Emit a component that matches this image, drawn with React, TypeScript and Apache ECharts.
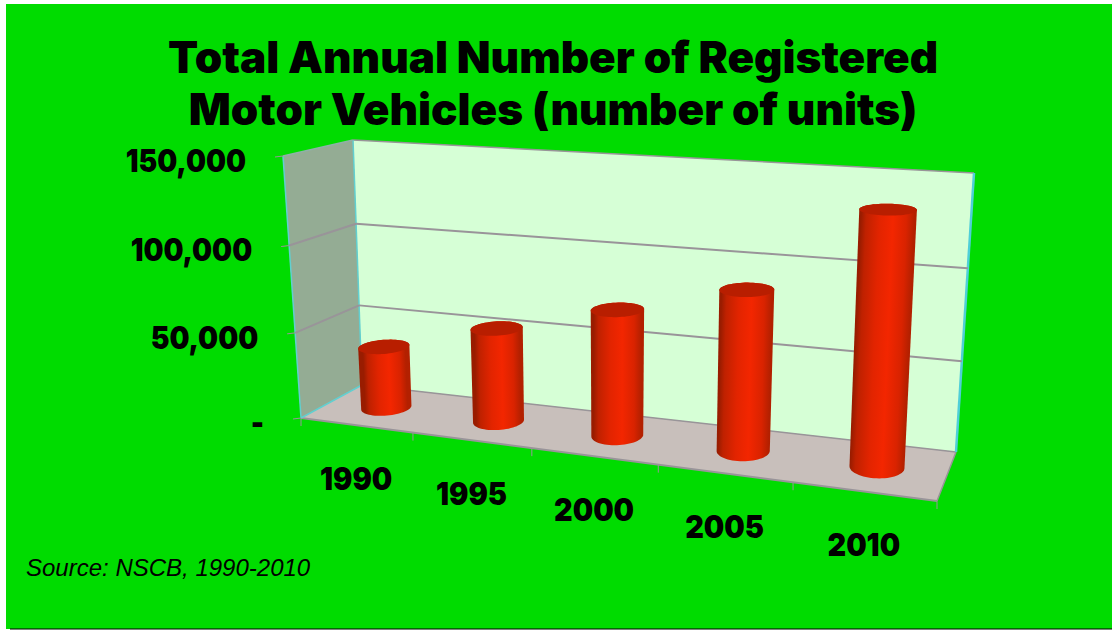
import React, { useEffect, useRef } from "react";
import * as echarts from "echarts";

const categories = ["1990", "1995", "2000", "2005", "2010"];
const vehicles = [36500, 54000, 71000, 88000, 135000];
const yTicks = [0, 50000, 100000, 150000];
const yTickLabels = ["-", "50,000", "100,000", "150,000"];
const titleText = "Total Annual Number of Registered\nMotor Vehicles (number of units)";
const sourceText = "Source: NSCB, 1990-2010";

type P = [number, number];
// Screen corners of the 3D box: floor and ceiling, order front-left, front-right, back-right, back-left
const FLOOR: P[] = [[301, 418], [937, 501], [956, 452], [362, 385]];
const CEIL: P[] = [[283, 156], [950, 196], [974, 173], [353, 140]];
const K = 0.963;
const M_FLOOR = 1.096;
const M_CEIL = 1.055;
const RU = 0.039;
const RW = 0.23;

function quad(q: P[]) {
  const [p0, p1, p2, p3] = q;
  const dx1 = p1[0] - p2[0], dx2 = p3[0] - p2[0], sx = p0[0] - p1[0] + p2[0] - p3[0];
  const dy1 = p1[1] - p2[1], dy2 = p3[1] - p2[1], sy = p0[1] - p1[1] + p2[1] - p3[1];
  const den = dx1 * dy2 - dx2 * dy1;
  const g = (sx * dy2 - dx2 * sy) / den;
  const h = (dx1 * sy - sx * dy1) / den;
  const a = p1[0] - p0[0] + g * p1[0], b = p3[0] - p0[0] + h * p3[0], c = p0[0];
  const d = p1[1] - p0[1] + g * p1[1], e = p3[1] - p0[1] + h * p3[1], f = p0[1];
  return (u: number, w: number): P => {
    const z = g * u + h * w + 1;
    return [(a * u + b * w + c) / z, (d * u + e * w + f) / z];
  };
}
const floorMap = quad(FLOOR);
const ceilMap = quad(CEIL);
const warp = (u: number, m: number) => (m * u) / (1 + (m - 1) * u);
function project(u: number, v: number, w: number): P {
  const t = (K * v) / (1 + (K - 1) * v);
  const a = floorMap(warp(u, M_FLOOR), w), b = ceilMap(warp(u, M_CEIL), w);
  return [a[0] + (b[0] - a[0]) * t, a[1] + (b[1] - a[1]) * t];
}

function hull(points: P[]): P[] {
  const pts = points.slice().sort((a, b) => a[0] - b[0] || a[1] - b[1]);
  const cross = (o: P, a: P, b: P) => (a[0] - o[0]) * (b[1] - o[1]) - (a[1] - o[1]) * (b[0] - o[0]);
  const lower: P[] = [];
  for (const p of pts) {
    while (lower.length >= 2 && cross(lower[lower.length - 2], lower[lower.length - 1], p) <= 0) lower.pop();
    lower.push(p);
  }
  const upper: P[] = [];
  for (let i = pts.length - 1; i >= 0; i--) {
    const p = pts[i];
    while (upper.length >= 2 && cross(upper[upper.length - 2], upper[upper.length - 1], p) <= 0) upper.pop();
    upper.push(p);
  }
  lower.pop();
  upper.pop();
  return lower.concat(upper);
}

function circle(u: number, v: number): P[] {
  const out: P[] = [];
  for (let i = 0; i < 64; i++) {
    const a = (i / 64) * Math.PI * 2;
    out.push(project(u + RU * Math.cos(a), v, 0.5 + RW * Math.sin(a)));
  }
  return out;
}

const line = (a: P, b: P, stroke: string, lineWidth = 1.5) => ({
  type: "line",
  shape: { x1: a[0], y1: a[1], x2: b[0], y2: b[1] },
  style: { stroke, lineWidth },
  silent: true,
});
const poly = (points: P[], fill: string) => ({ type: "polygon", shape: { points }, style: { fill }, silent: true });

const GREY = "#999499";
const CYAN = "#62cfd0";
const FONT = "Inter";

function renderPlanes() {
  const c = (u: number, v: number, w: number) => project(u, v, w);
  const children: any[] = [
    poly([c(0, 0, 1), c(1, 0, 1), c(1, 1, 1), c(0, 1, 1)], "#d6ffd6"),
    poly([c(0, 0, 0), c(0, 0, 1), c(0, 1, 1), c(0, 1, 0)], "#94ac94"),
    poly([c(0, 0, 0), c(1, 0, 0), c(1, 0, 1), c(0, 0, 1)], "#c8bfbb"),
    line(c(0, 1, 1), c(1, 1, 1), GREY),
    line(c(0, 0, 1), c(1, 0, 1), GREY),
    line(c(0, 0, 0), c(1, 0, 0), GREY, 2),
    line(c(1, 0, 0), c(1, 0, 1), GREY),
    line(c(1, 0, 1), c(1, 1, 1), "#4fcfd8", 2.5),
    line(c(0, 0, 1), c(0, 1, 1), CYAN),
    line(c(0, 0, 0), c(0, 1, 0), CYAN),
    line(c(0, 1, 0), c(0, 1, 1), "#8fb0a8"),
    line(c(0, 0, 0), c(0, 0, 1), CYAN),
  ];
  return { type: "group", children };
}

function renderTicks(params: any, api: any) {
  const cs = params.coordSys;
  const py = api.coord([0, api.value(1)])[1];
  const v = 1 - (py - cs.y) / cs.height;
  const a = project(0, v, 1), b = project(1, v, 1), f = project(0, v, 0);
  const children: any[] = [line([f[0] - 8, f[1] + 1], f, GREY, 1), {
    type: "text",
    x: f[0] - 37,
    y: f[1] + 4,
    scaleX: 0.88,
    style: {
      text: yTickLabels[params.dataIndex],
      align: "right",
      verticalAlign: "middle",
      font: `900 32px ${FONT}`,
      fill: "#000",
    },
  }];
  if (v > 0 && v < 1) {
    children.push(line(f, a, GREY, 2), line(a, b, GREY, 2));
  }
  return { type: "group", children };
}

function renderCats(params: any, api: any) {
  const cs = params.coordSys;
  const u = (api.coord([params.dataIndex, 0])[0] - cs.x) / cs.width;
  const p = project(u, 0, 0);
  const step = 1 / categories.length;
  const t0 = project(u - step / 2, 0, 0);
  const children: any[] = [
    line(t0, [t0[0], t0[1] + 8], GREY, 1),
    {
      type: "text",
      x: p[0],
      y: p[1] + 53,
      scaleX: 0.9,
      style: {
        text: categories[params.dataIndex],
        align: "center",
        verticalAlign: "middle",
        font: `900 32px ${FONT}`,
        fill: "#000",
      },
    },
  ];
  if (params.dataIndex === categories.length - 1) {
    const t1 = project(1, 0, 0);
    children.push(line(t1, [t1[0], t1[1] + 8], GREY, 1));
  }
  return { type: "group", children };
}

function renderBar(params: any, api: any) {
  const cs = params.coordSys;
  const pt = api.coord([params.dataIndex, api.value(1)]);
  const u = (pt[0] - cs.x) / cs.width;
  const v = 1 - (pt[1] - cs.y) / cs.height;
  const base = circle(u, 0);
  const top = circle(u, v);
  const c0 = project(u, 0, 0.5), c1 = project(u, v, 0.5);
  const dx = c1[0] - c0[0], dy = c1[1] - c0[1];
  const len = Math.hypot(dx, dy) || 1;
  const nx = -dy / len, ny = dx / len;
  const R = (project(u + RU, 0, 0.5)[0] - project(u - RU, 0, 0.5)[0]) / 2;
  const fill = new echarts.graphic.LinearGradient(
    c0[0] - nx * R * (nx > 0 ? 1 : -1),
    c0[1] - ny * R * (nx > 0 ? 1 : -1),
    c0[0] + nx * R * (nx > 0 ? 1 : -1),
    c0[1] + ny * R * (nx > 0 ? 1 : -1),
    [
      { offset: 0, color: "#991c00" },
      { offset: 0.1, color: "#bf2100" },
      { offset: 0.35, color: "#e22400" },
      { offset: 0.6, color: "#f32600" },
      { offset: 0.85, color: "#d92300" },
      { offset: 1, color: "#b32000" },
    ],
    true,
  );
  return {
    type: "group",
    children: [
      { type: "polygon", shape: { points: hull(base.concat(top)) }, style: { fill }, silent: true },
      { type: "polygon", shape: { points: top }, style: { fill: "#b81e00" }, silent: true },
    ],
  };
}

export default function App() {
  const ref = useRef<HTMLDivElement>(null);
  useEffect(() => {
    document.body.style.margin = "0";
    document.body.style.overflow = "hidden";
    const chart = echarts.init(ref.current!, undefined, { renderer: "svg" });
    chart.setOption({
      animation: false,
      backgroundColor: "#ffffff",
      title: {
        text: titleText,
        left: 548,
        top: 26,
        textAlign: "center",
        textStyle: { fontFamily: FONT, fontWeight: 900, fontSize: 44, lineHeight: 52, color: "#000" },
      },
      graphic: [
        { type: "rect", z: -10, shape: { x: 6, y: 4, width: 1106, height: 625 }, style: { fill: "#00dc00" }, silent: true },
        { type: "rect", z: -9, shape: { x: 10, y: 628.5, width: 1102, height: 1 }, style: { fill: "#000" }, silent: true },
        {
          type: "text",
          x: 26,
          y: 567,
          style: {
            text: sourceText,
            font: "italic 24px 'Liberation Sans'",
            fill: "#000",
            verticalAlign: "middle",
          },
        },
      ],
      grid: { left: 100, right: 100, top: 100, bottom: 100 },
      xAxis: { type: "category", data: categories, show: false },
      yAxis: { type: "value", min: 0, max: 150000, interval: 50000, show: false },
      series: [
        { type: "custom", z: 1, silent: true, data: [[categories[0], 0]], renderItem: renderPlanes },
        { type: "custom", z: 2, silent: true, data: yTicks.map((t) => [categories[0], t]), renderItem: renderTicks },
        { type: "custom", z: 2, silent: true, data: categories.map((c) => [c, 0]), renderItem: renderCats },
        { type: "custom", z: 3, silent: true, data: categories.map((c, i) => [c, vehicles[i]]), renderItem: renderBar },
      ],
    });
    return () => chart.dispose();
  }, []);
  return <div ref={ref} style={{ width: 1112, height: 630 }} />;
}
